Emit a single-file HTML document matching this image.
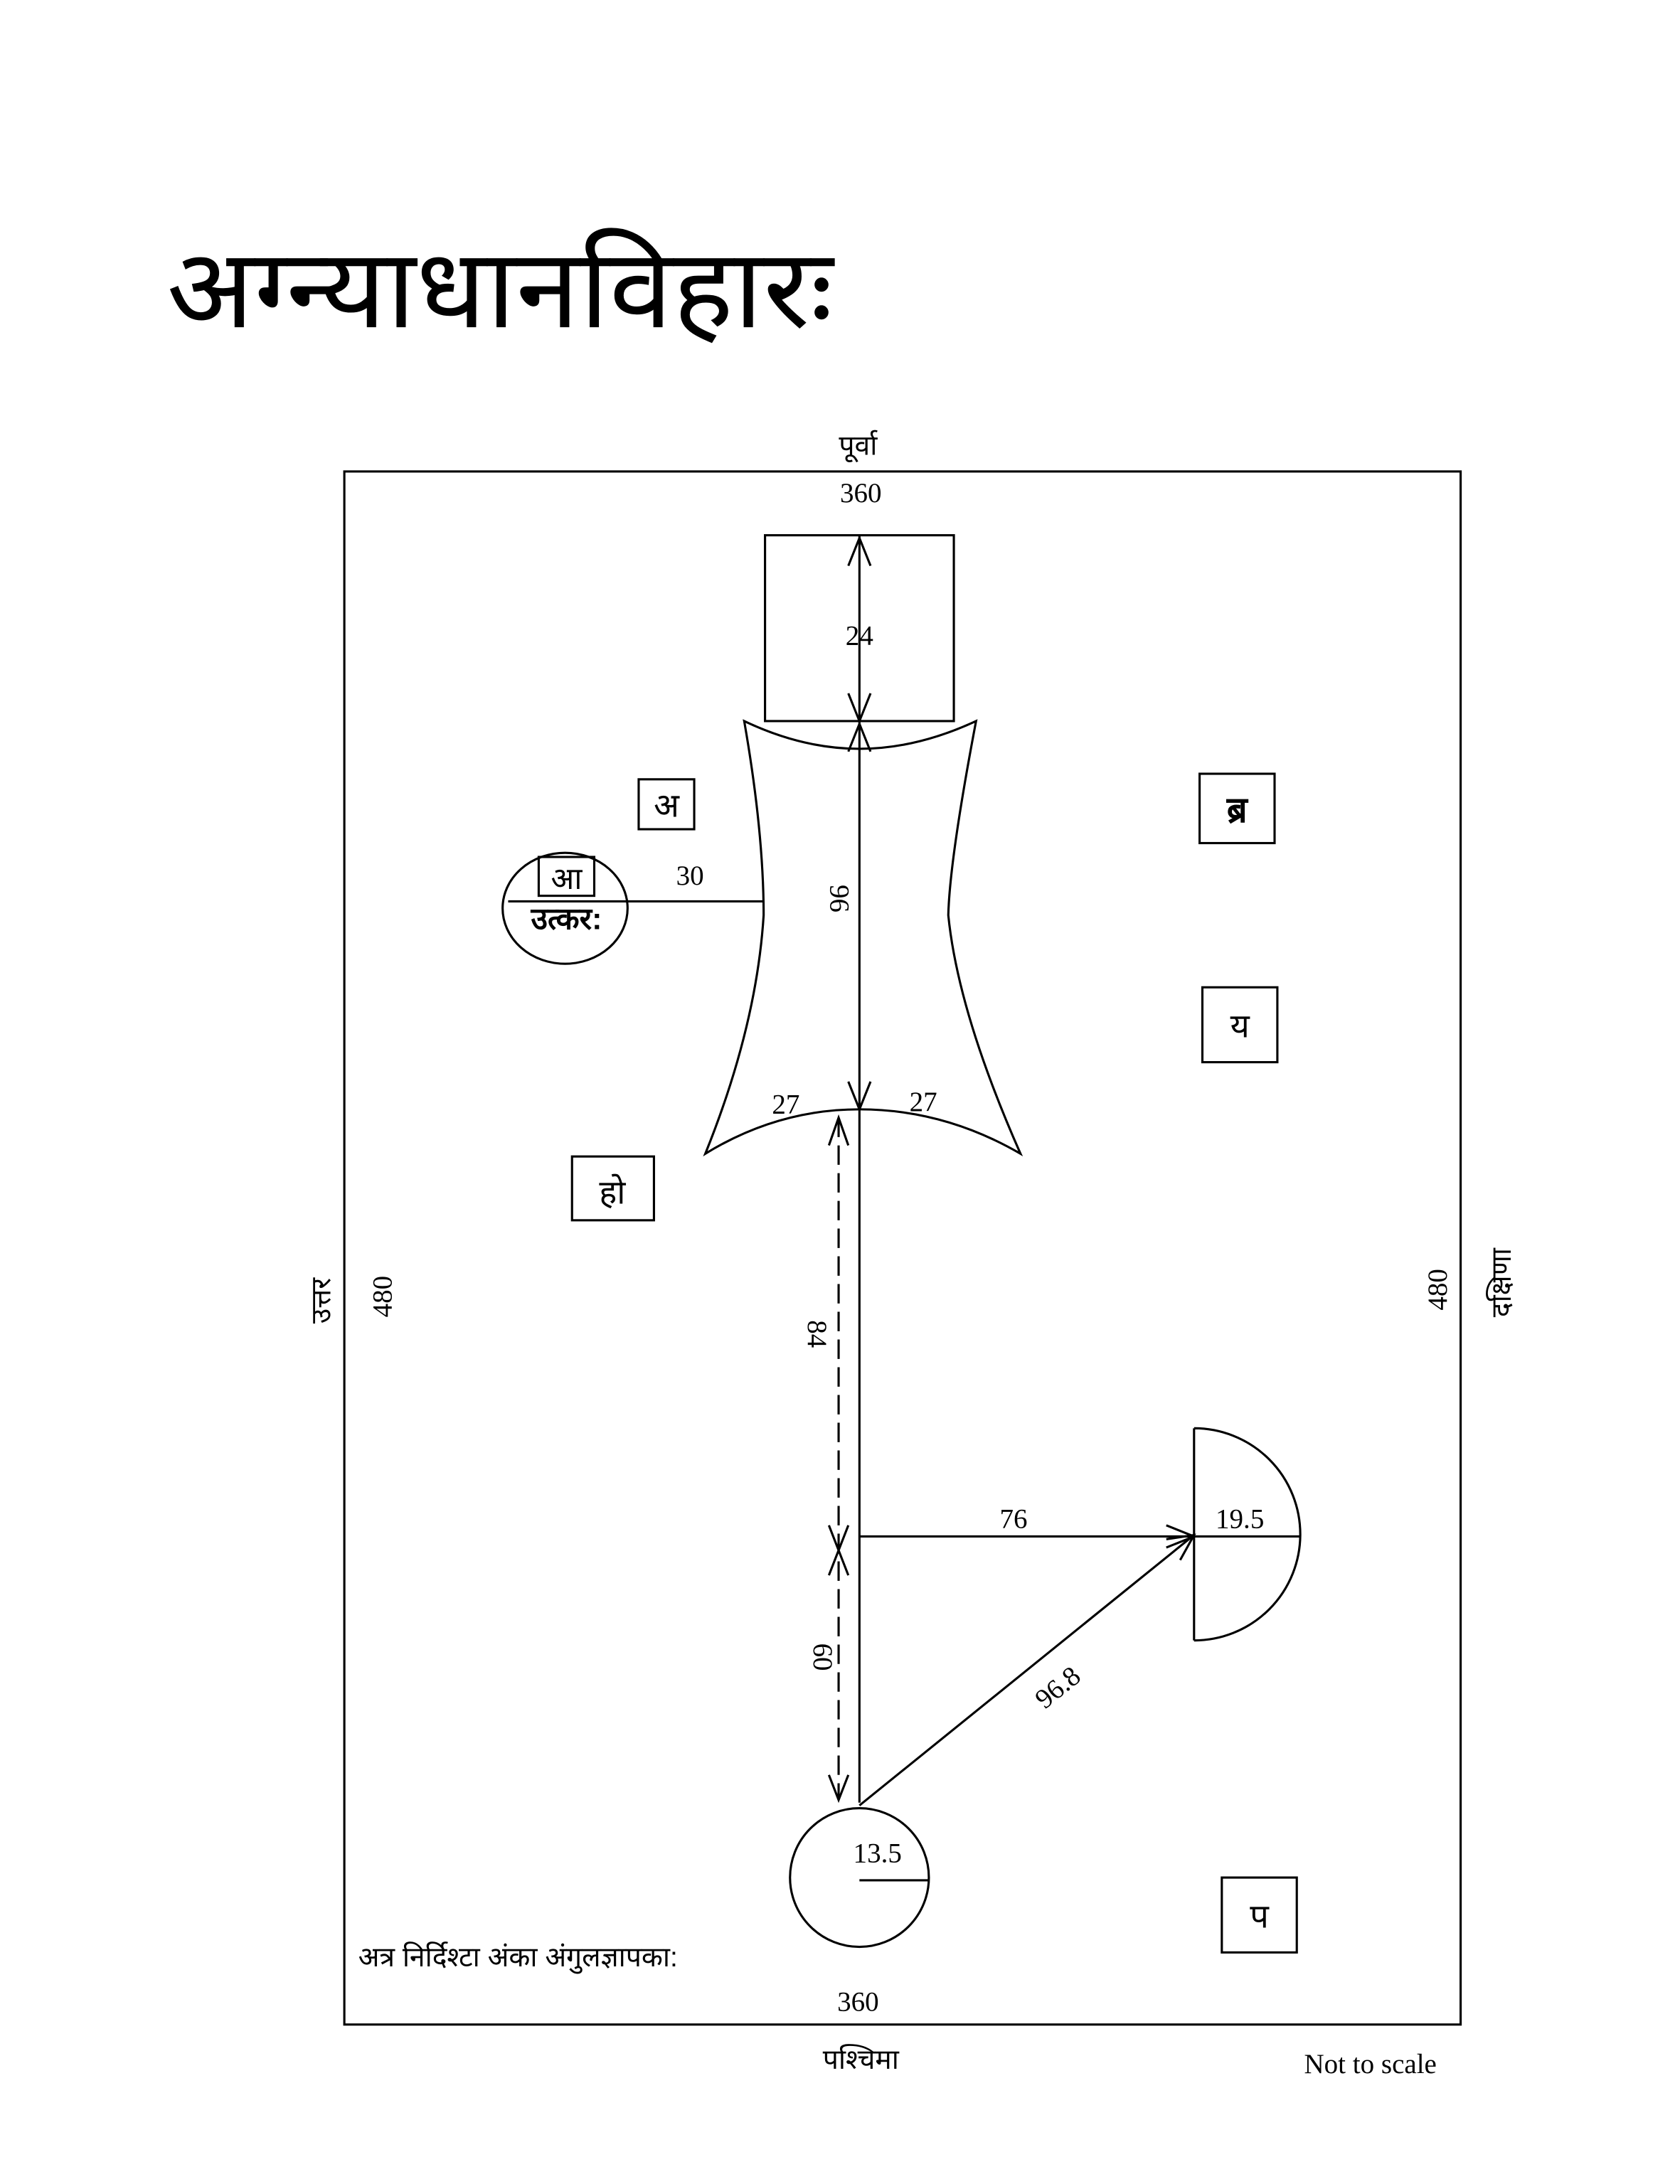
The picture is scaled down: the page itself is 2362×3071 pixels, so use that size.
<!DOCTYPE html>
<html><head><meta charset="utf-8"><style>
html,body{margin:0;padding:0;background:#fff;}
svg{display:block;}
.s{font-family:"Liberation Serif",serif;font-size:20px;fill:#000;}
.d{font-family:"Liberation Sans","Noto Sans CJK SC",sans-serif;fill:#000;}
</style></head><body>
<svg width="2362" height="3071" viewBox="0 0 1210 1575" preserveAspectRatio="none" xmlns="http://www.w3.org/2000/svg">
<text class="d" x="120" y="236" font-size="80" textLength="480" lengthAdjust="spacingAndGlyphs">अग्न्याधानविहारः</text>
<g fill="none" stroke="#000" stroke-width="1.6">
<rect x="248" y="340" width="804" height="1120"/>
<rect x="551" y="386" width="136" height="134"/>
<line x1="619" y1="386" x2="619" y2="1300"/>
<path d="M536,520 Q578,540 619,540 Q660,540 703,520 Q684,620 683,660 Q690,730 735,832 Q680,800 619,800 Q560,800 508,832 Q545,740 550,660 Q550,600 536,520 Z"/>
<path d="M611,408 L619,388 L627,408 M611,500 L619,520 L627,500 M611,542 L619,522 L627,542 M611,780 L619,800 L627,780"/>
<ellipse cx="407" cy="655" rx="45" ry="40"/>
<line x1="366" y1="650" x2="452" y2="650"/>
<rect x="388" y="618" width="40" height="28"/>
<line x1="452" y1="650" x2="550" y2="650"/>
<rect x="460" y="562" width="40" height="36"/>
<rect x="864" y="558" width="54" height="50"/>
<rect x="866" y="712" width="54" height="54"/>
<rect x="412" y="834" width="59" height="46"/>
<rect x="880" y="1354" width="54" height="54"/>
<line x1="604" y1="806" x2="604" y2="1298" stroke-dasharray="14,6"/>
<path d="M597,826 L604,806 L611,826 M597,1100 L604,1118 L611,1100 M597,1136 L604,1118 L611,1136 M597,1280 L604,1298 L611,1280"/>
<line x1="619" y1="1108" x2="860" y2="1108"/>
<path d="M840,1100 L860,1108 L840,1116" />
<path d="M860,1030 L860,1183 M860,1030 A76,76 0 0 1 860,1183"/>
<line x1="860" y1="1108" x2="936" y2="1108"/>
<line x1="619" y1="1302" x2="860" y2="1107"/>
<path d="M840,1110 L860,1107 L850,1125"/>
<circle cx="619" cy="1354" r="50"/>
<line x1="619" y1="1356" x2="669" y2="1356"/>
</g>
<text class="d" x="618" y="328" font-size="20" text-anchor="middle">पूर्वा</text>
<text class="s" x="620" y="362" text-anchor="middle">360</text>
<text class="s" x="619" y="465" text-anchor="middle">24</text>
<text class="s" transform="translate(598,648) rotate(90)" text-anchor="middle">96</text>
<text class="s" x="566" y="803" text-anchor="middle">27</text>
<text class="s" x="665" y="801" text-anchor="middle">27</text>
<text class="s" x="497" y="638" text-anchor="middle">30</text>
<text class="d" x="408" y="641" font-size="22" text-anchor="middle">आ</text>
<text class="d" x="408" y="670" font-size="22" font-weight="bold" text-anchor="middle">उत्कर:</text>
<text class="d" x="480" y="589" font-size="24" text-anchor="middle">अ</text>
<text class="d" x="891" y="593" font-size="26" font-weight="bold" text-anchor="middle">ब्र</text>
<text class="d" x="893" y="748" font-size="24" text-anchor="middle">य</text>
<text class="d" x="441" y="868" font-size="24" text-anchor="middle">हो</text>
<text class="d" x="907" y="1390" font-size="24" text-anchor="middle">प</text>
<text class="s" transform="translate(582,962) rotate(90)" text-anchor="middle">84</text>
<text class="s" transform="translate(586,1195) rotate(90)" text-anchor="middle">60</text>
<text class="s" x="730" y="1102" text-anchor="middle">76</text>
<text class="s" x="893" y="1102" text-anchor="middle">19.5</text>
<text class="s" font-size="24" transform="translate(766,1222) rotate(-39)" text-anchor="middle">96.8</text>
<text class="s" x="632" y="1343" text-anchor="middle">13.5</text>
<text class="d" x="258" y="1418" font-size="20">अत्र निर्दिश्टा अंका अंगुलज्ञापका:</text>
<text class="s" x="618" y="1450" text-anchor="middle">360</text>
<text class="d" x="620" y="1492" font-size="20" text-anchor="middle">पश्चिमा</text>
<text class="s" x="987" y="1495" font-size="21" text-anchor="middle">Not to scale</text>
<text class="d" font-size="20" transform="translate(238,938) rotate(-90)" text-anchor="middle">उत्तर</text>
<text class="s" transform="translate(282,935) rotate(-90)" text-anchor="middle">480</text>
<text class="s" transform="translate(1042,930) rotate(-90)" text-anchor="middle">480</text>
<text class="d" font-size="20" transform="translate(1088,925) rotate(-90)" text-anchor="middle">दक्षिणा</text>
</svg>
</body></html>
